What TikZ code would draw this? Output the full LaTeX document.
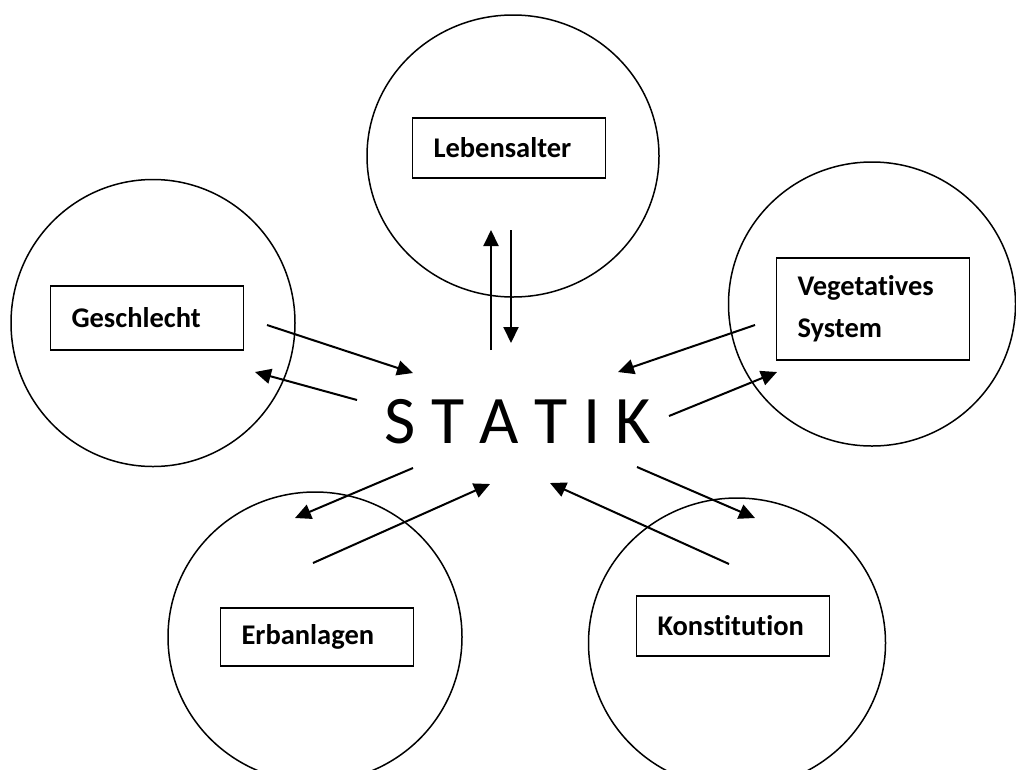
\documentclass[tikz,border=0pt]{standalone}
\usepackage{fontspec}
\setmainfont{Carlito}[RawFeature=-liga]
\usepackage{tikz}
\usetikzlibrary{shapes.geometric, arrows.meta}

\tikzset{
  ring/.style={draw, ellipse, line width=1.5pt, inner sep=0pt},
  label box/.style={draw, rectangle, line width=1.5pt, minimum width=193pt,
    minimum height=60pt, inner xsep=21pt, text width=151pt, align=left,
    font=\fontsize{28.5}{42}\selectfont\bfseries},
  arr/.style={line width=2pt, -{Triangle[length=16pt, width=15pt]}}
}

\begin{document}
\begin{tikzpicture}[x=1pt, y=-1pt]
    \useasboundingbox (0,0) rectangle (1016,769);
    \clip (0,0) rectangle (1016,769);

    % circles
    \node[ring, minimum width=292pt, minimum height=282pt] (c-leben) at (513,156) {};
    \node[ring, minimum width=284pt, minimum height=287pt] (c-geschl) at (153,323) {};
    \node[ring, minimum width=287pt, minimum height=284pt] (c-veget) at (872,304) {};
    \node[ring, minimum width=294pt, minimum height=290pt] (c-erb) at (315,637) {};
    \node[ring, minimum width=297pt, minimum height=290pt] (c-konst) at (737,643) {};

    % boxes
    \node[label box] (leben) at (509,148) {Lebensalter};
    \node[label box, minimum height=64pt] (geschl) at (147,318) {Geschlecht};
    \node[label box, minimum height=102pt] (veget) at (873,309) {Vegetatives\\System};
    \node[label box, minimum height=58pt] (erb) at (317,637) {Erbanlagen};
    \node[label box] (konst) at (733,626) {Konstitution};

    % centre word
    \node[anchor=base, inner sep=0pt, font=\fontsize{68}{80}\selectfont]
      (statik) at (518,443) {S T A T I K};

    % arrow ends
    \coordinate (leben-out) at (491,350);  \coordinate (leben-up) at (491,230);
    \coordinate (leben-top) at (511,230);  \coordinate (leben-in) at (511,343);
    \coordinate (geschl-a) at (267,325);   \coordinate (geschl-b) at (413,373);
    \coordinate (geschl-c) at (357,400);   \coordinate (geschl-d) at (255,372);
    \coordinate (veget-a) at (755,325);    \coordinate (veget-b) at (618,372);
    \coordinate (veget-c) at (669,416);    \coordinate (veget-d) at (777,372);
    \coordinate (erb-a) at (413,468);      \coordinate (erb-b) at (295,518);
    \coordinate (erb-c) at (313,563);      \coordinate (erb-d) at (490,484);
    \coordinate (konst-a) at (637,467);    \coordinate (konst-b) at (755,518);
    \coordinate (konst-c) at (729,564);    \coordinate (konst-d) at (550,483);

    % arrows
    \draw[arr] (leben-out) -- (leben-up);
    \draw[arr] (leben-top) -- (leben-in);
    \draw[arr] (geschl-a) -- (geschl-b);
    \draw[arr] (geschl-c) -- (geschl-d);
    \draw[arr] (veget-a) -- (veget-b);
    \draw[arr] (veget-c) -- (veget-d);
    \draw[arr] (erb-a) -- (erb-b);
    \draw[arr] (erb-c) -- (erb-d);
    \draw[arr] (konst-a) -- (konst-b);
    \draw[arr] (konst-c) -- (konst-d);
\end{tikzpicture}
\end{document}
